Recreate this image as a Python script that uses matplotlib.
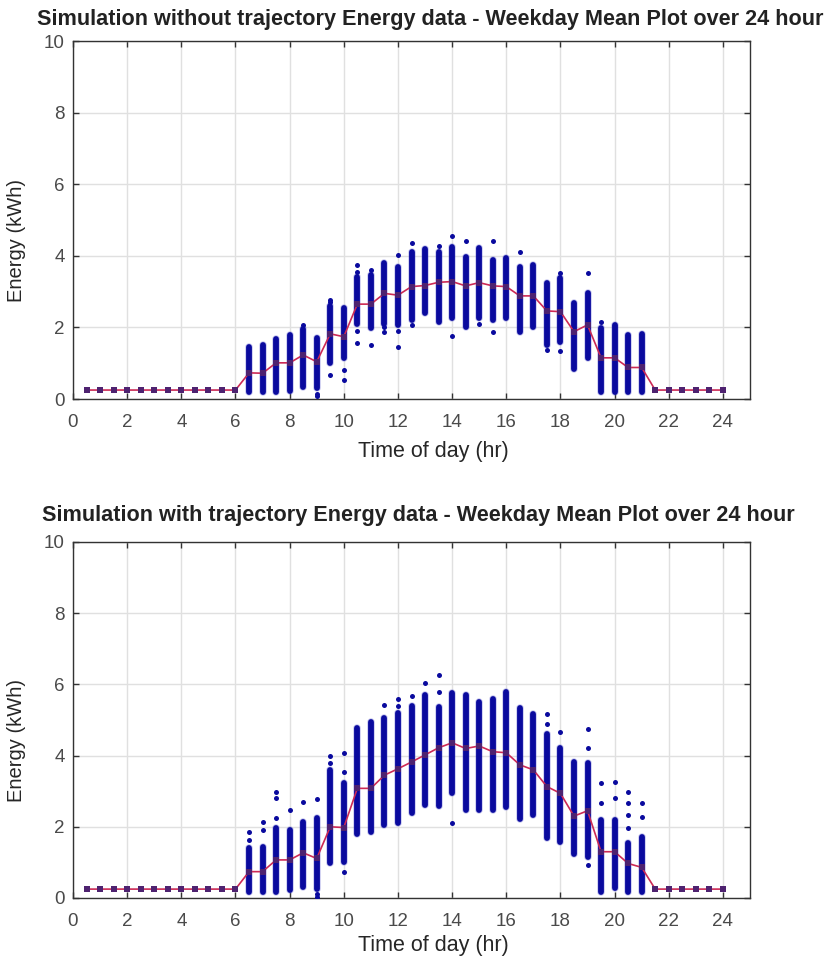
import matplotlib
matplotlib.use("Agg")
import matplotlib.pyplot as plt

plt.rcParams['font.family'] = ['Liberation Sans', 'DejaVu Sans']

# ---------------- data ----------------
mean_times = [0.5, 1.0, 1.5, 2.0, 2.5, 3.0, 3.5, 4.0, 4.5, 5.0, 5.5, 6.0,
              6.5, 7.0, 7.5, 8.0, 8.5, 9.0, 9.5, 10.0, 10.5, 11.0, 11.5, 12.0,
              12.5, 13.0, 13.5, 14.0, 14.5, 15.0, 15.5, 16.0, 16.5, 17.0, 17.5, 18.0,
              18.5, 19.0, 19.5, 20.0, 20.5, 21.0, 21.5, 22.0, 22.5, 23.0, 23.5, 24.0]

mean_without = [0.25, 0.25, 0.25, 0.25, 0.25, 0.25, 0.25, 0.25, 0.25, 0.25, 0.25, 0.25,
                0.73, 0.72, 1.01, 1.01, 1.23, 1.04, 1.82, 1.74, 2.65, 2.65, 2.95, 2.90,
                3.14, 3.17, 3.26, 3.28, 3.16, 3.25, 3.16, 3.14, 2.88, 2.88, 2.46, 2.44,
                1.88, 2.07, 1.15, 1.15, 0.88, 0.88, 0.25, 0.25, 0.25, 0.25, 0.25, 0.25]

mean_with = [0.25, 0.25, 0.25, 0.25, 0.25, 0.25, 0.25, 0.25, 0.25, 0.25, 0.25, 0.25,
             0.74, 0.74, 1.07, 1.07, 1.27, 1.11, 2.00, 1.98, 3.08, 3.08, 3.45, 3.63,
             3.82, 4.02, 4.22, 4.36, 4.20, 4.27, 4.11, 4.08, 3.74, 3.60, 3.13, 2.94,
             2.30, 2.45, 1.30, 1.30, 0.97, 0.86, 0.25, 0.25, 0.25, 0.25, 0.25, 0.25]

col_times = [6.5, 7.0, 7.5, 8.0, 8.5, 9.0, 9.5, 10.0, 10.5, 11.0, 11.5, 12.0,
             12.5, 13.0, 13.5, 14.0, 14.5, 15.0, 15.5, 16.0, 16.5, 17.0, 17.5, 18.0,
             18.5, 19.0, 19.5, 20.0, 20.5, 21.0]

# simulation without trajectory: dense sample range (low, high) and sparse samples
low_without = [0.20, 0.20, 0.20, 0.23, 0.33, 0.30, 1.00, 1.14, 2.10, 1.97, 2.10, 2.07,
               2.20, 2.39, 2.16, 2.25, 2.02, 2.25, 2.20, 2.25, 1.88, 2.02, 1.50, 1.60,
               0.83, 1.14, 0.20, 0.20, 0.20, 0.20]
high_without = [1.46, 1.50, 1.67, 1.79, 1.95, 1.70, 2.60, 2.53, 3.40, 3.45, 3.79, 3.70,
                4.10, 4.18, 4.10, 4.25, 3.98, 4.21, 3.88, 3.93, 3.68, 3.74, 3.23, 3.37,
                2.67, 2.95, 1.97, 2.07, 1.79, 1.82]
sparse_without = [[], [], [], [], [2.07], [0.07, 0.15], [2.77, 2.70, 0.67], [0.81, 0.53],
                  [3.74, 3.55, 1.57, 1.90], [3.60, 1.50], [1.88, 2.00], [4.02, 1.46, 1.90],
                  [4.35, 2.07], [], [4.27], [4.55, 1.77], [4.42], [2.10], [4.42, 1.88], [],
                  [4.12], [], [1.37], [3.51, 1.34], [], [3.51], [2.16], [], [], []]

# simulation with trajectory
low_with = [0.18, 0.18, 0.18, 0.22, 0.32, 0.25, 0.97, 1.02, 1.80, 1.86, 2.05, 2.10,
            2.38, 2.61, 2.58, 2.94, 2.47, 2.47, 2.47, 2.57, 2.21, 2.33, 1.68, 1.58,
            1.25, 1.16, 0.18, 0.27, 0.18, 0.18]
high_with = [1.40, 1.44, 1.96, 1.91, 2.14, 2.24, 3.60, 3.22, 4.78, 4.95, 5.05, 5.20,
             5.40, 5.70, 5.37, 5.77, 5.70, 5.51, 5.58, 5.78, 5.33, 5.17, 4.60, 4.20,
             3.83, 3.78, 2.19, 2.19, 1.54, 1.72]
sparse_with = [[1.63, 1.86], [1.91, 2.14], [2.24, 2.80, 2.99], [2.47], [2.71],
               [2.77, 0.04, 0.12], [3.99, 3.80], [4.06, 3.55, 0.74], [], [], [5.42],
               [5.58, 5.40], [5.68], [6.03], [6.26, 5.80], [2.10], [], [], [], [], [], [],
               [5.17, 4.90], [4.67], [], [4.74, 4.20, 0.93], [2.66, 3.22], [2.80, 3.27],
               [1.96, 2.33, 2.66, 2.99], [2.27, 2.66]]

titles = ["Simulation without trajectory Energy data - Weekday Mean Plot over 24 hour",
          "Simulation with trajectory Energy data - Weekday Mean Plot over 24 hour"]
xticks = [0, 2, 4, 6, 8, 10, 12, 14, 16, 18, 20, 22, 24]
yticks = [0, 2, 4, 6, 8, 10]

# ---------------- figure ----------------
W, H = 831, 967
fig = plt.figure(figsize=(W / 100, H / 100), dpi=100)

def fx(px):
    return px / W

def fy(py):
    return 1 - py / H

panels = [
    dict(top=41, bottom=399, mean=mean_without, low=low_without, high=high_without,
         sparse=sparse_without, title=titles[0], title_x=430, title_y=20,
         ylab_y=241, xlab_y=452),
    dict(top=542, bottom=898, mean=mean_with, low=low_with, high=high_with,
         sparse=sparse_with, title=titles[1], title_x=418, title_y=516,
         ylab_y=740, xlab_y=946),
]

left, right = 73, 750
dot_color = '#0a0a9e'
tick_color = '#4a4a4a'

for p in panels:
    ax = fig.add_axes([fx(left), fy(p['bottom']), fx(right - left),
                       (p['bottom'] - p['top']) / H])
    ax.set_xlim(0, 25)
    ax.set_ylim(0, 10)
    ax.set_xticks(xticks)
    ax.set_yticks(yticks)
    ax.grid(True, color='#e0e0e0', linewidth=1.0)
    ax.set_axisbelow(True)
    for s in ax.spines.values():
        s.set_color('#333333')
        s.set_linewidth(1.0)
    ax.tick_params(direction='in', length=4, width=1, color='#333333',
                   top=True, right=True, labelsize=13.5, labelcolor=tick_color)
    ax.tick_params(axis='x', pad=11)
    ax.tick_params(axis='y', pad=6)

    # dense sample ranges
    ax.vlines(col_times, p['low'], p['high'], colors='#5a5ad0', linewidth=5.4,
              alpha=0.35, capstyle='round', zorder=2)
    ax.vlines(col_times, p['low'], p['high'], colors=dot_color, linewidth=4.2,
              capstyle='round', zorder=3)
    # sparse samples
    sx, sy = [], []
    for t, vals in zip(col_times, p['sparse']):
        for v in vals:
            sx.append(t)
            sy.append(v)
    ax.plot(sx, sy, linestyle='none', marker='o', markersize=3.6,
            color=dot_color, markeredgewidth=0, zorder=3)

    # mean line
    ax.plot(mean_times, p['mean'], color='#cc2a55', linewidth=1.2, zorder=4)
    ax.plot(mean_times, p['mean'], linestyle='none', marker='s', markersize=3.8,
            color='#4e2270', markeredgewidth=0, zorder=5)

    fig.text(fx(p['title_x']), fy(p['title_y']), p['title'], ha='center', va='center',
             fontsize=15.6, fontweight='bold', color='#222222')
    fig.text(fx(17), fy(p['ylab_y']), 'Energy (kWh)', ha='center', va='center',
             rotation=90, fontsize=14.5, color='#262626')
    fig.text(fx(433), fy(p['xlab_y']), 'Time of day (hr)', ha='center', va='center',
             fontsize=15.5, color='#262626')

fig.savefig('out.png', dpi=100)
